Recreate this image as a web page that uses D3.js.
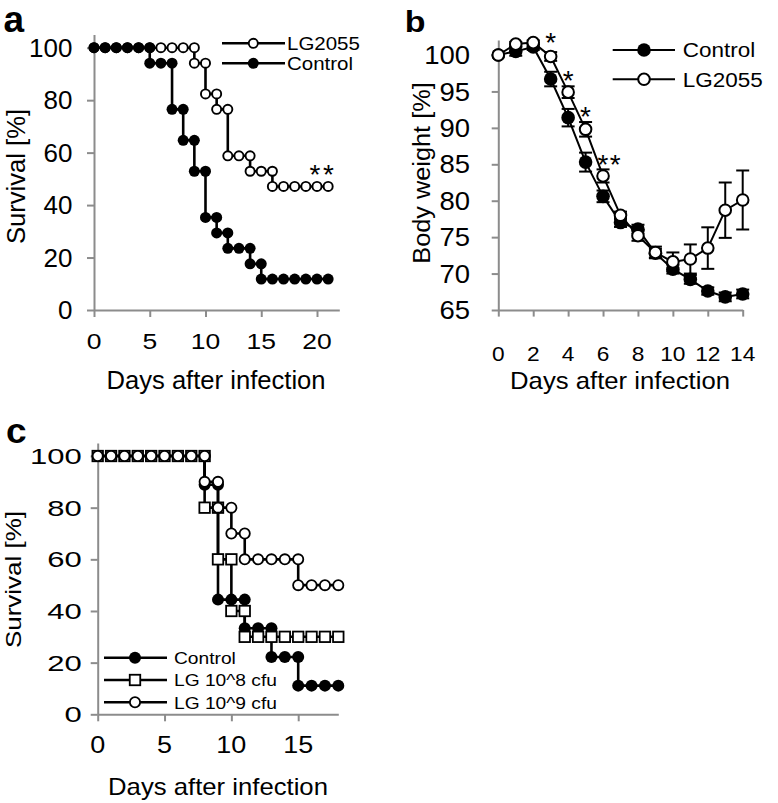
<!DOCTYPE html>
<html><head><meta charset="utf-8">
<script src="https://cdn.jsdelivr.net/npm/d3@7"></script>
<style>
body{margin:0;background:#fff}
svg{display:block}
text{font-family:"Liberation Sans",Arial,sans-serif;fill:#000}
</style>
</head><body>
<svg id="chart" width="778" height="803"></svg>
<script>
// ---------------- DATA ----------------
// Panel a: survival
const daysA = [0,1,2,3,4,5,6,7,8,9,10,11,12,13,14,15,16,17,18,19,20,21];
const survA_LG2055 = [100,100,100,100,100,100,100,100,100,94.1,82.4,76.5,58.8,58.8,52.9,52.9,47.1,47.1,47.1,47.1,47.1,47.1];
const survA_Control = [100,100,100,100,100,94.1,94.1,76.5,64.7,52.9,35.3,29.4,23.5,23.5,17.6,11.8,11.8,11.8,11.8,11.8,11.8,11.8];
const ticksA_x = [0,5,10,15,20];
const ticksA_y = [0,20,40,60,80,100];
const seriesA = ["LG2055","Control"];

// Panel b: body weight
const daysB = [0,1,2,3,4,5,6,7,8,9,10,11,12,13,14];
const bwB_Control = [100,100.5,101.1,96.7,91.4,85.3,80.6,77.0,76.1,72.8,70.6,69.2,67.6,66.8,67.2];
const semB_Control = [0,0.6,0.4,1.0,1.2,1.3,0.8,0.6,0.6,0.6,0.6,0.6,0.5,0.6,0.6];
const bwB_LG2055 = [100,101.5,101.7,99.8,94.9,89.8,83.4,78.0,75.2,72.9,71.6,72.0,73.5,78.7,80.1];
const semB_LG2055 = [0,0.3,0.3,0.6,0.8,1.0,0.9,0.5,0.7,0.8,1.3,2.0,2.85,3.8,4.05];
const ticksB_x = [0,2,4,6,8,10,12,14];
const ticksB_y = [65,70,75,80,85,90,95,100];
const sigB_days = [3,4,5,6];
const sigB_labels = ["*","*","*","**"];
const sigB_level = [102.6,97.4,92.5,85.8];
const seriesB = ["Control","LG2055"];

// Panel c: survival, dose
const daysC = [0,1,2,3,4,5,6,7,8,9,10,11,12,13,14,15,16,17,18];
const survC_Control = [100,100,100,100,100,100,100,100,88.9,44.4,44.4,33.3,33.3,22.2,22.2,11.1,11.1,11.1,11.1];
const survC_LG8 = [100,100,100,100,100,100,100,100,80,60,40,30,30,30,30,30,30,30,30];
const survC_LG9 = [100,100,100,100,100,100,100,100,90,80,70,60,60,60,60,50,50,50,50];
const ticksC_x = [0,5,10,15];
const ticksC_y = [0,20,40,60,80,100];
const seriesC = ["Control","LG 10^8 cfu","LG 10^9 cfu"];

// ---------------- HELPERS ----------------
const svg = d3.select("#chart");
const AXIS = "#8c8c8c";

function label(g, x, y, str, o) {
  o = o || {};
  const sy = o.sy, sx = o.sx || sy;
  let tr = `translate(${x},${y})`;
  if (o.rot) tr += ` rotate(${o.rot})`;
  tr += ` scale(${sx/sy},1)`;
  const t = g.append("text")
    .attr("transform", tr)
    .attr("font-size", sy)
    .attr("text-anchor", o.anchor || "start")
    .text(str);
  if (o.weight) t.attr("font-weight", o.weight);
  if (o.ls) t.attr("letter-spacing", o.ls);
  return t;
}

function stepPoints(days, vals) {
  const pts = [];
  days.forEach((d, i) => {
    if (i > 0 && vals[i] !== vals[i-1]) pts.push([d, vals[i-1]]);
    pts.push([d, vals[i]]);
  });
  return pts;
}

function marker(g, type, cx, cy, s) {
  if (type === "filled") {
    g.append("circle").attr("cx", cx).attr("cy", cy).attr("r", s.r).attr("fill", "#000");
  } else if (type === "open") {
    g.append("circle").attr("cx", cx).attr("cy", cy).attr("r", s.r - s.sw/2)
      .attr("fill", "#fff").attr("stroke", "#000").attr("stroke-width", s.sw);
  } else if (type === "square") {
    const h = s.sq/2 - s.sw/2;
    g.append("rect").attr("x", cx - h).attr("y", cy - h).attr("width", 2*h).attr("height", 2*h)
      .attr("fill", "#fff").attr("stroke", "#000").attr("stroke-width", s.sw);
  }
}

function axes(g, x, y, xt, yt, tk) {
  const ya = g.append("g").attr("transform", `translate(${x.range()[0]},0)`)
    .call(d3.axisLeft(y).tickValues(yt).tickSize(tk).tickSizeOuter(0).tickFormat(""));
  const xa = g.append("g").attr("transform", `translate(0,${y.range()[0]})`)
    .call(d3.axisBottom(x).tickValues(xt).tickSize(tk).tickSizeOuter(0).tickFormat(""));
  [ya, xa].forEach(a => {
    a.select(".domain").attr("stroke", AXIS).attr("stroke-width", 2);
    a.selectAll(".tick line").attr("stroke", AXIS).attr("stroke-width", 2);
  });
}

const line = (x, y) => d3.line().x(d => x(d[0])).y(d => y(d[1]));

// ---------------- PANEL A ----------------
{
  const g = svg.append("g");
  const x = d3.scaleLinear().domain([0, 22]).range([94, 339.3]);
  const y = d3.scaleLinear().domain([0, 105]).range([310, 34.6]);
  axes(g, x, y, ticksA_x, ticksA_y, 7);
  ticksA_y.forEach(v => label(g, 72.5, y(v) + 9.3, String(v), {sx: 26, sy: 26, anchor: "end"}));
  ticksA_x.forEach(v => label(g, x(v), 349, String(v), {sx: 26.5, sy: 22, anchor: "middle"}));
  label(g, 216, 389, "Days after infection", {sx: 25.6, sy: 26, anchor: "middle"});
  label(g, 25, 176.5, "Survival [%]", {sx: 25.6, sy: 25, anchor: "middle", rot: -90});
  label(g, 3.5, 31.5, "a", {sx: 37, sy: 37, weight: "bold"});

  const st = {r: 5.5, sw: 1.9};
  const sets = [[survA_LG2055, "open"], [survA_Control, "filled"]];
  sets.forEach(([vals, type]) => {
    const pts = stepPoints(daysA, vals);
    g.append("path").datum(pts).attr("d", line(x, y)).attr("fill", "none")
      .attr("stroke", "#000").attr("stroke-width", 2.6);
    pts.forEach(p => marker(g, type, x(p[0]), y(p[1]), st));
  });
  // legend
  const rows = [43.3, 63.3];
  seriesA.forEach((name, i) => {
    const type = i === 0 ? "open" : "filled";
    g.append("line").attr("x1", 222).attr("x2", 285).attr("y1", rows[i]).attr("y2", rows[i])
      .attr("stroke", "#000").attr("stroke-width", 2.6);
    marker(g, type, 253.3, rows[i], st);
    label(g, 287, rows[i] + 6.7, name, {sx: 20.5, sy: 18.6});
  });
  label(g, 309.5, 183.5, "**", {sx: 28, sy: 28, ls: 2.5});
}

// ---------------- PANEL B ----------------
{
  const g = svg.append("g");
  const x = d3.scaleLinear().domain([0, 14]).range([498.3, 742.7]);
  const y = d3.scaleLinear().domain([65, 102.06]).range([310, 40]);
  axes(g, x, y, ticksB_x, ticksB_y, 6.6);
  ticksB_y.forEach(v => label(g, 470, y(v) + 9.2, String(v), {sx: 27.5, sy: 25.6, anchor: "end"}));
  ticksB_x.forEach(v => label(g, x(v), 360.5, String(v), {sx: 22.7, sy: 20.5, anchor: "middle"}));
  label(g, 620, 388.5, "Days after infection", {sx: 25.7, sy: 24, anchor: "middle"});
  label(g, 429.8, 173, "Body weight [%]", {sx: 25.3, sy: 24.8, anchor: "middle", rot: -90});
  label(g, 404.7, 31.7, "b", {sx: 34, sy: 30, weight: "bold"});

  const st = {r: 6.8, sw: 2};
  const sets = [[bwB_Control, semB_Control, "filled"], [bwB_LG2055, semB_LG2055, "open"]];
  sets.forEach(([vals, sem, type]) => {
    const pts = daysB.map((d, i) => [d, vals[i]]);
    g.append("path").datum(pts).attr("d", line(x, y)).attr("fill", "none")
      .attr("stroke", "#000").attr("stroke-width", 2);
    pts.forEach((p, i) => {
      if (sem[i] > 0) {
        const cx = x(p[0]), y1 = y(p[1] - sem[i]), y2 = y(p[1] + sem[i]);
        g.append("line").attr("x1", cx).attr("x2", cx).attr("y1", y1).attr("y2", y2)
          .attr("stroke", "#000").attr("stroke-width", 2);
        [y1, y2].forEach(yy => g.append("line").attr("x1", cx - 6.5).attr("x2", cx + 6.5)
          .attr("y1", yy).attr("y2", yy).attr("stroke", "#000").attr("stroke-width", 2));
      }
    });
    pts.forEach(p => marker(g, type, x(p[0]), y(p[1]), st));
  });
  sigB_days.forEach((d, i) => {
    label(g, x(d) - 5.5, y(sigB_level[i]) + 16, sigB_labels[i], {sx: 28, sy: 28, ls: 1.2});
  });
  const rows = [50, 79.3];
  seriesB.forEach((name, i) => {
    const type = i === 0 ? "filled" : "open";
    g.append("line").attr("x1", 612.7).attr("x2", 675).attr("y1", rows[i]).attr("y2", rows[i])
      .attr("stroke", "#000").attr("stroke-width", 2);
    marker(g, type, 644, rows[i], st);
    label(g, 682.7, rows[i] + 7.2, name, {sx: 22.5, sy: 19.5});
  });
}

// ---------------- PANEL C ----------------
{
  const g = svg.append("g");
  const x = d3.scaleLinear().domain([0, 18]).range([97.7, 338.3]);
  const y = d3.scaleLinear().domain([0, 105]).range([714.3, 443.1]);
  axes(g, x, y, ticksC_x, ticksC_y, 7);
  ticksC_y.forEach(v => label(g, 81.7, y(v) + 8, String(v), {sx: 31, sy: 22.5, anchor: "end"}));
  ticksC_x.forEach(v => label(g, x(v), 753, String(v), {sx: 27, sy: 23, anchor: "middle"}));
  label(g, 218, 795, "Days after infection", {sx: 25.7, sy: 23.4, anchor: "middle"});
  label(g, 20.5, 579.5, "Survival [%]", {sx: 26, sy: 21.3, anchor: "middle", rot: -90});
  label(g, 6, 443.3, "c", {sx: 37, sy: 35, weight: "bold"});

  const st = {r: 6, sw: 1.8, sq: 12.3};
  const sets = [[survC_Control, "filled"], [survC_LG8, "square"], [survC_LG9, "open"]];
  sets.forEach(([vals, type]) => {
    const pts = stepPoints(daysC, vals);
    g.append("path").datum(pts).attr("d", line(x, y)).attr("fill", "none")
      .attr("stroke", "#000").attr("stroke-width", 2.6);
    pts.forEach(p => marker(g, type, x(p[0]), y(p[1]), st));
  });
  const rows = [657.7, 680, 702.3];
  const types = ["filled", "square", "open"];
  seriesC.forEach((name, i) => {
    g.append("line").attr("x1", 104).attr("x2", 167).attr("y1", rows[i]).attr("y2", rows[i])
      .attr("stroke", "#000").attr("stroke-width", 2.6);
    marker(g, types[i], 135, rows[i], st);
    label(g, 174, rows[i] + 6.2, name, {sx: 19.2, sy: 17.2});
  });
}
</script>
</body></html>
